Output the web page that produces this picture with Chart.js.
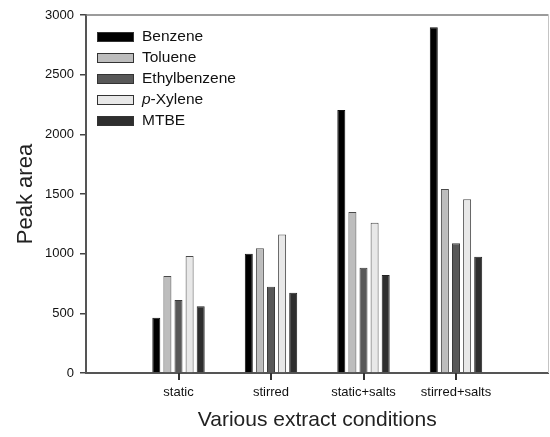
<!DOCTYPE html>
<html>
<head>
<meta charset="utf-8">
<script src="https://cdn.jsdelivr.net/npm/chart.js@4/dist/chart.umd.min.js"></script>
<style>
  html, body { margin: 0; padding: 0; background: #fff; }
  #wrap { width: 550px; height: 437px; }
</style>
</head>
<body>
<div id="wrap"><canvas id="chartDiv"></canvas></div>
<script>
const categories = ["static", "stirred", "static+salts", "stirred+salts"];
const seriesNames = ["Benzene", "Toluene", "Ethylbenzene", "p-Xylene", "MTBE"];
const benzene = [463, 1000, 2204, 2897];
const toluene = [813, 1045, 1349, 1542];
const ethylbenzene = [612, 723, 882, 1087];
const xylene = [980, 1160, 1260, 1456];
const mtbe = [559, 673, 821, 975];
const yTicks = [0, 500, 1000, 1500, 2000, 2500, 3000];

const fills = ["#000000", "#bdbdbd", "#585858", "#e8e8e8", "#2e2e2e"];
const edges = ["#111111", "#4a4a4a", "#3a3a3a", "#4a4a4a", "#222222"];

// empty slot on each side so the groups sit at 1..4 of a 0..5 axis
const labels = ["", ...categories, ""];
const pad = (arr) => [null, ...arr, null];
const allSeries = [benzene, toluene, ethylbenzene, xylene, mtbe];

const datasets = allSeries.map((vals, i) => ({
  label: seriesNames[i],
  data: pad(vals),
  backgroundColor: fills[i],
  borderColor: edges[i],
  borderWidth: 1,
  categoryPercentage: 0.6,
  barPercentage: 0.72,
}));

const FONT = "'Liberation Sans', Arial, sans-serif";

// top/right frame lines plus the x tick marks under each group
const framePlugin = {
  id: "frame",
  afterDraw(chart) {
    const { ctx, chartArea: a } = chart;
    const xs = chart.scales.x;
    ctx.save();
    ctx.strokeStyle = "#7a7a7a";
    ctx.lineWidth = 1.5;
    ctx.beginPath();
    ctx.moveTo(a.left, a.top);
    ctx.lineTo(a.right, a.top);
    ctx.stroke();
    ctx.strokeStyle = "#c4c4c4";
    ctx.lineWidth = 1;
    ctx.beginPath();
    ctx.moveTo(a.right, a.top);
    ctx.lineTo(a.right, a.bottom);
    ctx.stroke();
    ctx.fillStyle = "#333";
    categories.forEach((c, i) => {
      const px = Math.round(xs.getPixelForValue(i + 1));
      ctx.fillRect(px - 1, xs.top, 2, 7);
    });
    ctx.restore();
  },
};

// legend drawn by hand so "p" of p-Xylene can be italic
const legendPlugin = {
  id: "sketchLegend",
  afterDraw(chart) {
    const { ctx, chartArea: a } = chart;
    const size = 15.5;
    ctx.save();
    ctx.font = size + "px " + FONT;
    ctx.textBaseline = "middle";
    chart.data.datasets.forEach((ds, i) => {
      const y = a.top + 22 + i * 21;
      const bx = a.left + 11;
      ctx.fillStyle = ds.backgroundColor;
      ctx.fillRect(bx, y - 5, 37, 10);
      ctx.strokeStyle = "#333";
      ctx.lineWidth = 1;
      ctx.strokeRect(bx + 0.5, y - 4.5, 36, 9);
      ctx.fillStyle = "#111";
      let tx = bx + 45;
      let text = ds.label;
      if (text.startsWith("p-")) {
        ctx.font = "italic " + size + "px " + FONT;
        ctx.fillText("p", tx, y);
        tx += ctx.measureText("p").width;
        ctx.font = size + "px " + FONT;
        text = text.slice(1);
      }
      ctx.fillText(text, tx, y);
    });
    ctx.restore();
  },
};

new Chart(document.getElementById("chartDiv"), {
  type: "bar",
  data: { labels, datasets },
  options: {
    responsive: true,
    maintainAspectRatio: false,
    animation: false,
    layout: { padding: { top: 15, right: 1.5, left: 0, bottom: 0 } },
    plugins: { legend: { display: false }, tooltip: { enabled: false } },
    scales: {
      x: {
        offset: false,
        afterFit: (s) => {
          s.height = 64;
          s.paddingRight = 0;
          s.paddingLeft = 0;
        },
        grid: {
          offset: false,
          drawOnChartArea: false,
          tickLength: 6,
          color: "rgba(0,0,0,0)",
        },
        border: { color: "#555", width: 2 },
        ticks: {
          autoSkip: false,
          maxRotation: 0,
          padding: 6,
          color: "#111",
          font: { family: FONT, size: 13 },
        },
        title: {
          display: true,
          text: "Various extract conditions",
          color: "#222",
          padding: { top: 0, bottom: 4 },
          font: { family: FONT, size: 21 },
        },
      },
      y: {
        min: 0,
        max: 3000,
        afterFit: (s) => { s.width = 86; },
        afterBuildTicks: (s) => { s.ticks = yTicks.map((v) => ({ value: v })); },
        grid: { drawOnChartArea: false, tickLength: 6, lineWidth: 1.5, color: "#444" },
        border: { color: "#555", width: 2 },
        ticks: {
          padding: 6,
          color: "#111",
          font: { family: FONT, size: 13 },
          callback: (v) => String(v),
        },
        title: {
          display: true,
          text: "Peak area",
          color: "#222",
          padding: { top: 13, bottom: 0 },
          font: { family: FONT, size: 22 },
        },
      },
    },
  },
  plugins: [framePlugin, legendPlugin],
});
</script>
</body>
</html>
